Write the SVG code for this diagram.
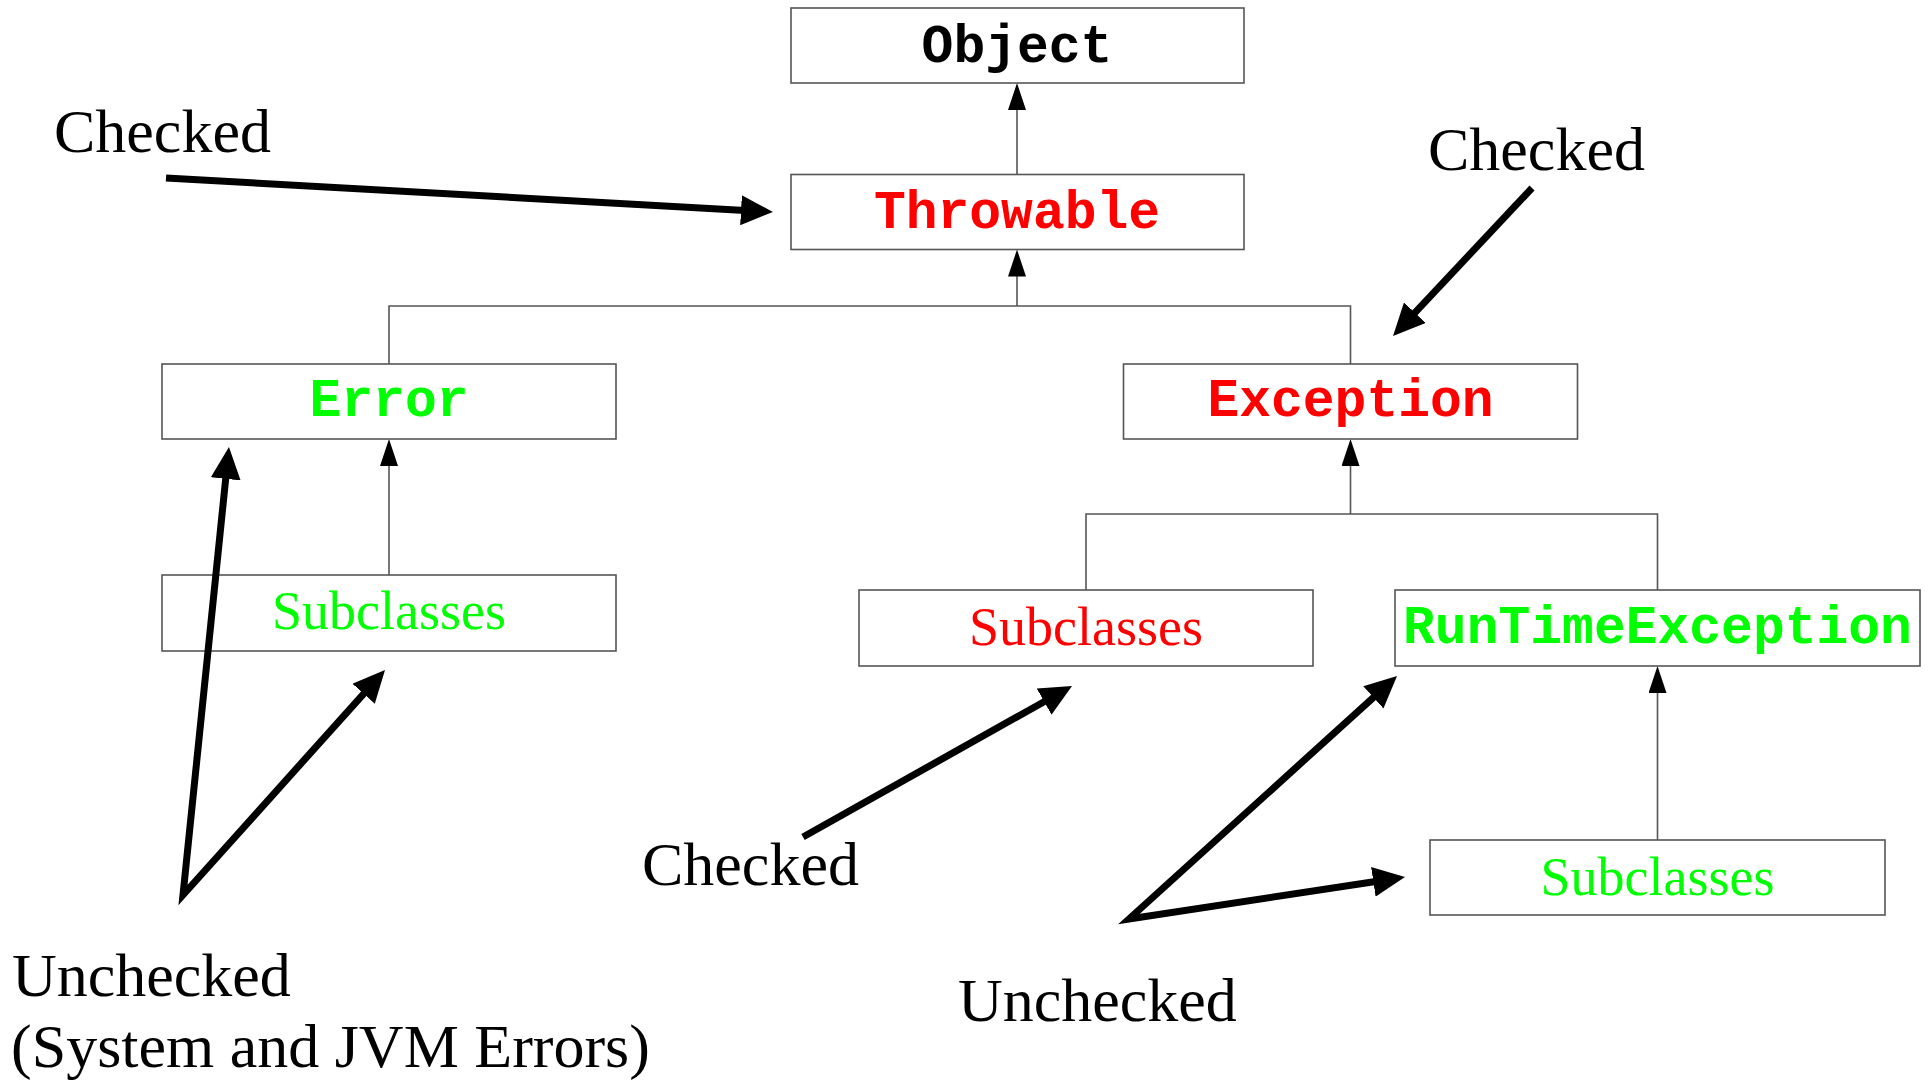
<svg xmlns="http://www.w3.org/2000/svg" width="1929" height="1083" viewBox="0 0 1929 1083">
<style>
.box{fill:#fff;stroke:#555;stroke-width:1.6}
.code{font-family:"Liberation Mono",monospace;font-weight:bold;font-size:53px;text-anchor:middle}
.ser{font-family:"Liberation Serif",serif;font-size:54px;text-anchor:middle}
.lab{font-family:"Liberation Serif",serif;font-size:62px;fill:#000}
.thin{fill:none;stroke:#555;stroke-width:1.6}
.thick{fill:none;stroke:#000;stroke-width:7;stroke-linejoin:miter}
.red{fill:#ff0000}.green{fill:#00ff00}.black{fill:#000}
</style>
<defs>
<marker id="ah" viewBox="0 0 27 18" refX="3" refY="9" markerWidth="27" markerHeight="18" markerUnits="userSpaceOnUse" orient="auto"><path d="M0,0 L27,9 L0,18 z" fill="#000"/></marker>
<marker id="big" viewBox="0 0 32 30" refX="4" refY="15" markerWidth="32" markerHeight="30" markerUnits="userSpaceOnUse" orient="auto-start-reverse"><path d="M0,0 L32,15 L0,30 z" fill="#000"/></marker>
</defs>
<g id="connectors">
<path class="thin" d="M1017,174.5 V107" marker-end="url(#ah)"/>
<path class="thin" d="M1017,306 V273.5" marker-end="url(#ah)"/>
<path class="thin" d="M389,364 V306 H1350.5 V364"/>
<path class="thin" d="M389,575 V463" marker-end="url(#ah)"/>
<path class="thin" d="M1350.5,514 V463" marker-end="url(#ah)"/>
<path class="thin" d="M1086,590 V514 H1657.5 V590"/>
<path class="thin" d="M1657.5,840 V690" marker-end="url(#ah)"/>
</g>
<g id="object"><rect class="box" x="791" y="8" width="453" height="75"/><text class="code black" x="1017" y="62">Object</text></g>
<g id="throwable"><rect class="box" x="791" y="174.5" width="453" height="75"/><text class="code red" x="1017" y="228">Throwable</text></g>
<g id="error"><rect class="box" x="162" y="364" width="454" height="75"/><text class="code green" x="389" y="416">Error</text></g>
<g id="error-subclasses"><rect class="box" x="162" y="575" width="454" height="76"/><text class="ser green" x="389" y="629">Subclasses</text></g>
<g id="exception"><rect class="box" x="1123.5" y="364" width="454" height="75"/><text class="code red" x="1350.5" y="416">Exception</text></g>
<g id="exception-subclasses"><rect class="box" x="859" y="590" width="454" height="76"/><text class="ser red" x="1086" y="645">Subclasses</text></g>
<g id="runtimeexception"><rect class="box" x="1395" y="590" width="525" height="76"/><text class="code green" x="1657.5" y="643">RunTimeException</text></g>
<g id="runtime-subclasses"><rect class="box" x="1430" y="840" width="455" height="75"/><text class="ser green" x="1657.5" y="895">Subclasses</text></g>
<g id="annotation-arrows">
<path class="thick" d="M166,178 L745,210.4" marker-end="url(#big)"/>
<path class="thick" d="M1532,188 L1412.2,315.6" marker-end="url(#big)"/>
<path class="thick" d="M226.1,474.9 L183,895 L366.3,690.8" marker-start="url(#big)" marker-end="url(#big)"/>
<path class="thick" d="M803,837 L1047.6,699.7" marker-end="url(#big)"/>
<path class="thick" d="M1376.3,694.8 L1129,919 L1377.3,881.2" marker-start="url(#big)" marker-end="url(#big)"/>
</g>
<g id="labels">
<text class="lab" x="54" y="152">Checked</text>
<text class="lab" x="1428" y="170">Checked</text>
<text class="lab" x="642" y="885">Checked</text>
<text class="lab" x="958" y="1021">Unchecked</text>
<text class="lab" x="12" y="996">Unchecked</text>
<text class="lab" x="11" y="1067">(System and JVM Errors)</text>
</g>
</svg>
